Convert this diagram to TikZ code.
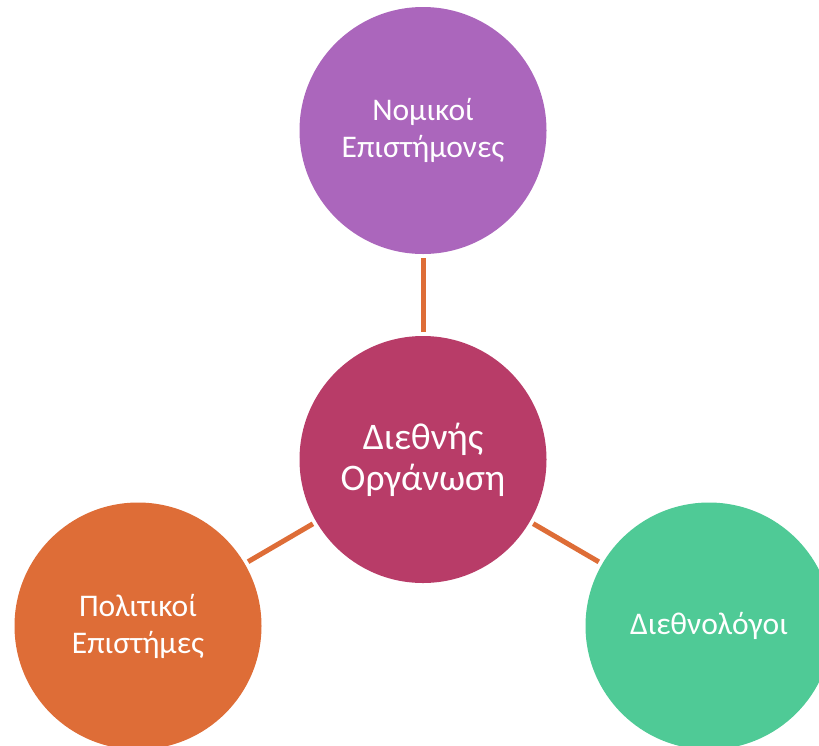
\documentclass[tikz,border=0pt]{standalone}
\usepackage{fontspec}
\setmainfont{Carlito}
\definecolor{cpurple}{HTML}{AB66BC}
\definecolor{ccrimson}{HTML}{B83C68}
\definecolor{corange}{HTML}{DE6D37}
\definecolor{cgreen}{HTML}{4FCA96}
\begin{document}
\begin{tikzpicture}[x=1pt,y=-1pt,
  bubble/.style={circle, inner sep=0pt, outer sep=0pt, minimum size=247pt,
    text=white, align=center, font=\fontsize{31.5}{37}\selectfont},
  link/.style={corange, line width=5pt, shorten <=4pt, shorten >=4pt}]
\useasboundingbox (0,0) rectangle (819,745);
\clip (0,0) rectangle (819,745);
\node[bubble, fill=cpurple] (top) at (423,130.5) {Νομικοί\\Επιστήμονες};
\node[bubble, fill=ccrimson, font=\fontsize{37.5}{41}\selectfont] (mid) at (423,459.5) {Διεθνής\\Οργάνωση};
\node[bubble, fill=corange] (left) at (138,626) {Πολιτικοί\\Επιστήμες};
\node[bubble, fill=cgreen] (right) at (709,626) {Διεθνολόγοι};
\draw[link] (mid) -- (top);
\draw[link] (mid) -- (left);
\draw[link] (mid) -- (right);
\end{tikzpicture}
\end{document}
